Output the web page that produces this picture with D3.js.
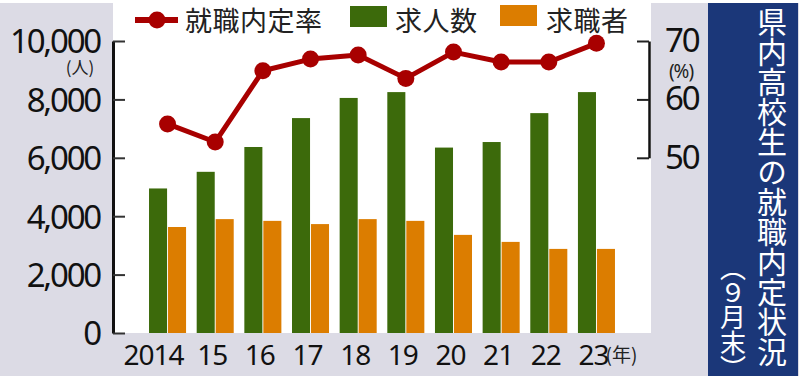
<!DOCTYPE html>
<html>
<head>
<meta charset="utf-8">
<script src="https://cdn.jsdelivr.net/npm/d3@7"></script>
<style>
  html, body { margin: 0; padding: 0; background: #fff; }
  svg { display: block; }
</style>
</head>
<body>
<div id="chart"></div>
<script>
// 年
const years = ["2014", "15", "16", "17", "18", "19", "20", "21", "22", "23"];
// 求人数 (人)
const jobOffers = [4950, 5520, 6370, 7360, 8050, 8250, 6350, 6540, 7530, 8250];
// 求職者 (人)
const jobSeekers = [3630, 3900, 3840, 3730, 3900, 3840, 3360, 3120, 2880, 2880];
// 就職内定率 (%)
const offerRate = [55.8, 52.7, 64.9, 66.9, 67.6, 63.6, 68.1, 66.4, 66.4, 69.6];

const leftTicks = [0, 2000, 4000, 6000, 8000, 10000];
const rightTicks = [50, 60, 70];
const seriesNames = ["求人数", "求職者"];

const width = 799, height = 376;
const plot = { left: 113, right: 651, top: 41, bottom: 333 };
const colors = { green: "#3c6a0b", orange: "#dc7d00", red: "#a80000", navy: "#1b3779", bg: "#dcdbe5" };
const numFont = "'Noto Sans', 'DejaVu Sans', sans-serif";
const jpFont = "'Noto Sans CJK JP', 'Noto Sans', sans-serif";

const svg = d3.select("#chart").append("svg").attr("width", width).attr("height", height);

// 背景
svg.append("rect").attr("x", 0).attr("y", 3).attr("width", width).attr("height", height - 3).attr("fill", colors.bg);
svg.append("rect").attr("x", plot.left).attr("y", 0).attr("width", plot.right - plot.left).attr("height", plot.bottom).attr("fill", "#fff");

// スケール
const x = d3.scaleBand().domain(years).range([plot.left, plot.right]).paddingInner(0.223).paddingOuter(0.756);
const xs = d3.scaleBand().domain(seriesNames).range([0, x.bandwidth()]).paddingInner(0.05);
const y = d3.scaleLinear().domain([0, 10000]).range([plot.bottom, plot.top]);
const yr = d3.scaleLinear().domain([50, 70]).range([y(6000), y(10000)]);

// 棒
const barG = svg.append("g");
years.forEach((yr_, i) => {
    const g = barG.append("g").attr("transform", "translate(" + x(yr_) + ",0)");
    g.append("rect").attr("x", xs("求人数")).attr("width", xs.bandwidth())
        .attr("y", y(jobOffers[i])).attr("height", y(0) - y(jobOffers[i])).attr("fill", colors.green);
    g.append("rect").attr("x", xs("求職者")).attr("width", xs.bandwidth())
        .attr("y", y(jobSeekers[i])).attr("height", y(0) - y(jobSeekers[i])).attr("fill", colors.orange);
});

// 左軸
const leftAxis = svg.append("g").attr("transform", "translate(" + plot.left + ",0)")
    .call(d3.axisLeft(y).tickValues(leftTicks).tickSize(-12).tickSizeOuter(0).tickPadding(13).tickFormat(d3.format(",")));
leftAxis.select(".domain").attr("stroke", "#111").attr("stroke-width", 3);
leftAxis.selectAll(".tick line").attr("stroke", "#333").attr("stroke-width", 2);
leftAxis.selectAll(".tick text").attr("font-family", numFont).attr("font-size", 33)
    .attr("letter-spacing", -2.2).attr("fill", "#111").attr("dy", "0.36em");
svg.append("text").attr("x", 80).attr("y", 74).attr("text-anchor", "middle")
    .attr("font-family", jpFont).attr("font-size", 17).attr("fill", "#222").text("(人)");

// 右軸
const rightAxis = svg.append("g").attr("transform", "translate(" + (plot.right - 2) + ",0)")
    .call(d3.axisRight(yr).tickValues(rightTicks).tickSize(-12).tickSizeOuter(0).tickPadding(16));
rightAxis.select(".domain").attr("stroke", "#111").attr("stroke-width", 2.5);
rightAxis.selectAll(".tick line").attr("stroke", "#222").attr("stroke-width", 2);
rightAxis.selectAll(".tick text").attr("font-family", numFont).attr("font-size", 33)
    .attr("letter-spacing", -2.2).attr("fill", "#111").attr("dy", "0.32em");
svg.append("text").attr("x", 681).attr("y", 78).attr("text-anchor", "middle")
    .attr("font-family", numFont).attr("font-size", 19).attr("letter-spacing", -1).attr("fill", "#222").text("(%)");

// 横軸ラベル
const xLabels = svg.append("g");
years.forEach((d, i) => {
    const cx = x(d) + x.bandwidth() / 2;
    xLabels.append("text")
        .attr("x", i === 0 ? cx + 16 : cx - 3)
        .attr("y", 365)
        .attr("text-anchor", i === 0 ? "end" : "middle")
        .attr("font-family", numFont).attr("font-size", 28).attr("letter-spacing", -1)
        .attr("fill", "#111").text(d);
});
const lastX = x(years[years.length - 1]) + x.bandwidth() / 2;
xLabels.append("text").attr("x", lastX + 9).attr("y", 362)
    .attr("font-family", jpFont).attr("font-size", 19).attr("fill", "#222").text("(年)");

// 折れ線
const line = d3.line()
    .x((d, i) => x(years[i]) + x.bandwidth() / 2)
    .y(d => yr(d));
svg.append("path").datum(offerRate).attr("d", line)
    .attr("fill", "none").attr("stroke", colors.red).attr("stroke-width", 5).attr("stroke-linejoin", "round");
svg.append("g").selectAll("circle").data(offerRate).join("circle")
    .attr("cx", (d, i) => x(years[i]) + x.bandwidth() / 2)
    .attr("cy", d => yr(d))
    .attr("r", 8.5).attr("fill", colors.red);

// 凡例
const legend = svg.append("g").attr("font-family", jpFont).attr("font-size", 27).attr("fill", "#222");
legend.append("line").attr("x1", 135).attr("x2", 178).attr("y1", 20).attr("y2", 20)
    .attr("stroke", colors.red).attr("stroke-width", 6);
legend.append("circle").attr("cx", 157).attr("cy", 20).attr("r", 8.5).attr("fill", colors.red);
legend.append("text").attr("x", 185).attr("y", 31).attr("letter-spacing", 0.5).text("就職内定率");
legend.append("rect").attr("x", 350).attr("y", 6).attr("width", 37).attr("height", 21).attr("fill", colors.green);
legend.append("text").attr("x", 395).attr("y", 31).attr("letter-spacing", 0.5).text("求人数");
legend.append("rect").attr("x", 500).attr("y", 5).attr("width", 37).attr("height", 21).attr("fill", colors.orange);
legend.append("text").attr("x", 546).attr("y", 31).attr("letter-spacing", 0.5).text("求職者");

// タイトル
svg.append("rect").attr("x", 708).attr("y", 3).attr("width", 90).attr("height", height - 3).attr("fill", colors.navy);
svg.append("text").attr("x", 772).attr("y", 7)
    .style("writing-mode", "vertical-rl").style("text-orientation", "upright")
    .attr("font-family", jpFont).attr("font-size", 30).attr("fill", "#fff")
    .text("県内高校生の就職内定状況");
svg.append("text").attr("x", 733).attr("y", 369).attr("text-anchor", "end")
    .style("writing-mode", "vertical-rl").style("text-orientation", "upright")
    .style("font-feature-settings", "'vpal'")
    .attr("font-family", jpFont).attr("font-size", 26).attr("fill", "#fff")
    .text("（９月末）");
</script>
</body>
</html>
